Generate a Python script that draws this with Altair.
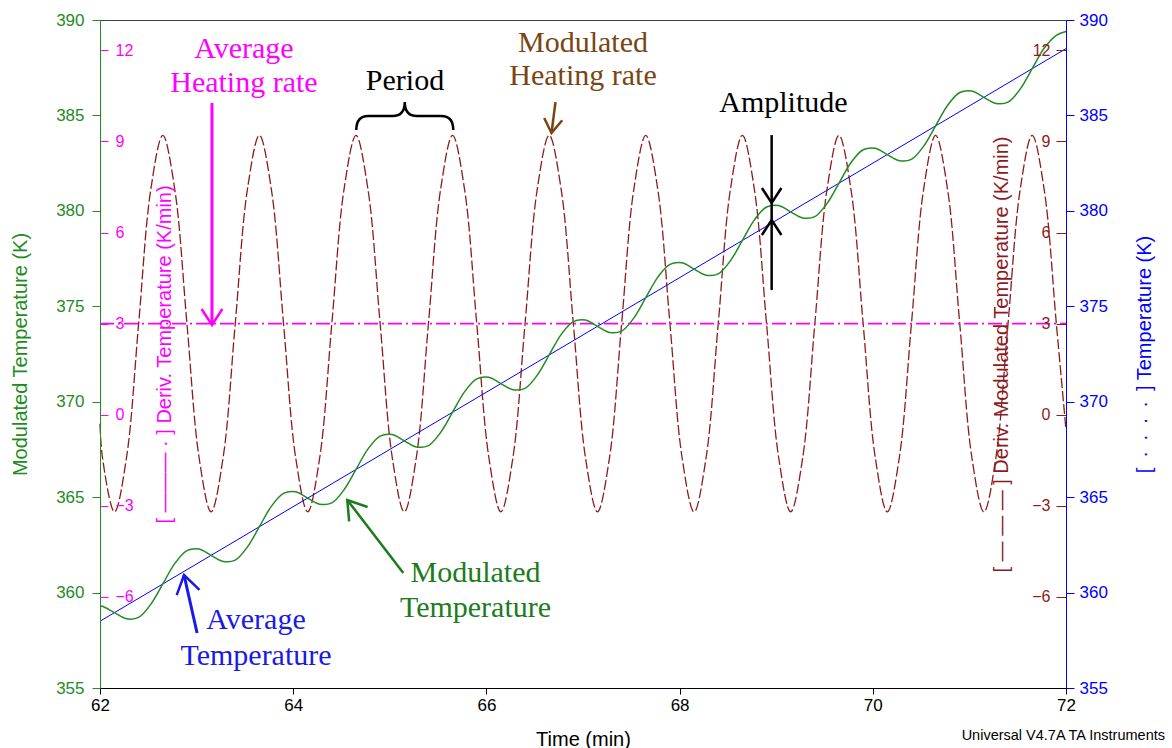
import altair as alt
import pandas as pd

# ---------------- data ----------------
time_min = [62.0,
    62.025, 62.15, 62.275, 62.4, 62.525, 62.65, 62.775, 62.9,
    63.025, 63.15, 63.275, 63.4, 63.525, 63.65, 63.775, 63.9,
    64.025, 64.15, 64.275, 64.4, 64.525, 64.65, 64.775, 64.9,
    65.025, 65.15, 65.275, 65.4, 65.525, 65.65, 65.775, 65.9,
    66.025, 66.15, 66.275, 66.4, 66.525, 66.65, 66.775, 66.9,
    67.025, 67.15, 67.275, 67.4, 67.525, 67.65, 67.775, 67.9,
    68.025, 68.15, 68.275, 68.4, 68.525, 68.65, 68.775, 68.9,
    69.025, 69.15, 69.275, 69.4, 69.525, 69.65, 69.775, 69.9,
    70.025, 70.15, 70.275, 70.4, 70.525, 70.65, 70.775, 70.9,
    71.025, 71.15, 71.275, 71.4, 71.525, 71.65, 71.775, 71.9,
    72.0]

# Deriv. Modulated Temperature (K/min)
deriv_mod = [-0.3,
    -1.4, -3.2, -1.4, 3.0, 7.4, 9.2, 7.4, 3.0,
    -1.4, -3.2, -1.4, 3.0, 7.4, 9.2, 7.4, 3.0,
    -1.4, -3.2, -1.4, 3.0, 7.4, 9.2, 7.4, 3.0,
    -1.4, -3.2, -1.4, 3.0, 7.4, 9.2, 7.4, 3.0,
    -1.4, -3.2, -1.4, 3.0, 7.4, 9.2, 7.4, 3.0,
    -1.4, -3.2, -1.4, 3.0, 7.4, 9.2, 7.4, 3.0,
    -1.4, -3.2, -1.4, 3.0, 7.4, 9.2, 7.4, 3.0,
    -1.4, -3.2, -1.4, 3.0, 7.4, 9.2, 7.4, 3.0,
    -1.4, -3.2, -1.4, 3.0, 7.4, 9.2, 7.4, 3.0,
    -1.4, -3.2, -1.4, 3.0, 7.4, 9.2, 7.4, 3.0,
    -0.5]

# Modulated Temperature (K)
mod_temp = [359.30,
    359.28, 358.95, 358.63, 358.70, 359.38, 360.45, 361.53, 362.20,
    362.28, 361.95, 361.63, 361.70, 362.38, 363.45, 364.53, 365.20,
    365.28, 364.95, 364.63, 364.70, 365.38, 366.45, 367.53, 368.20,
    368.28, 367.95, 367.63, 367.70, 368.38, 369.45, 370.53, 371.20,
    371.28, 370.95, 370.63, 370.70, 371.38, 372.45, 373.53, 374.20,
    374.28, 373.95, 373.63, 373.70, 374.38, 375.45, 376.53, 377.20,
    377.28, 376.95, 376.63, 376.70, 377.38, 378.45, 379.53, 380.20,
    380.28, 379.95, 379.63, 379.70, 380.38, 381.45, 382.53, 383.20,
    383.28, 382.95, 382.63, 382.70, 383.38, 384.45, 385.53, 386.20,
    386.28, 385.95, 385.63, 385.70, 386.38, 387.45, 388.53, 389.20,
    389.40]

# Average temperature (K) and average heating rate (K/min)
avg_time = [62.0, 72.0]
avg_temp = [358.5, 388.5]
avg_rate = [3.0, 3.0]

x_ticks = [62, 64, 66, 68, 70, 72]
temp_ticks = [355, 360, 365, 370, 375, 380, 385, 390]
rate_ticks = [-6, -3, 0, 3, 6, 9, 12]

# annotations (positions in data units: time, temperature)
ann_labels = ["Average", "Heating rate", "Period", "Modulated", "Heating rate",
              "Amplitude", "Modulated", "Temperature", "Average", "Temperature"]
ann_time = [63.49, 63.49, 65.157, 67.0, 67.0, 69.075, 65.887, 65.887, 63.615, 63.615]
ann_temp = [388.01, 386.23, 386.33, 388.32, 386.59, 385.18, 360.55, 358.72, 358.09, 356.20]
ann_color = ["#FF00FF", "#FF00FF", "#000000", "#7A4513", "#7A4513",
             "#000000", "#1C7C1C", "#1C7C1C", "#1A1AE6", "#1A1AE6"]

arrow_t1 = [63.159, 66.715, 68.953, 65.14, 63.005]
arrow_y1 = [385.65, 385.70, 383.97, 361.03, 357.88]
arrow_t2 = [63.159, 66.674, 68.953, 64.56, 62.87]
arrow_y2 = [374.02, 384.08, 375.85, 364.85, 360.92]
arrow_col = ["#FF00FF", "#7A4513", "#000000", "#1C7C1C", "#1A1AE6"]
arrow_w = [3, 2.5, 2.5, 2.5, 3]

head_t = [63.159, 66.674, 68.953, 68.953, 64.56, 62.87]
head_y = [374.02, 384.08, 380.41, 379.52, 364.85, 360.92]
head_angle = [0, 7, 0, 180, 142, 167]
head_size = [1024, 784, 900, 900, 1296, 1296]
head_col = ["#FF00FF", "#7A4513", "#000000", "#000000", "#1C7C1C", "#1A1AE6"]

brace_t = [65.155]
brace_y = [384.97]

# ---------------- styling ----------------
W, H = 966, 668
GREEN = "#228B22"
GREEN_TXT = "#1E8C1E"
BLUE = "#0000FF"
MAG = "#FF00FF"
RED = "#8E1B1B"

df_mod = pd.DataFrame({"t": time_min, "d": deriv_mod, "T": mod_temp})
df_avg = pd.DataFrame({"t": avg_time, "T": avg_temp, "d": avg_rate})
df_ann = pd.DataFrame({"t": ann_time, "T": ann_temp, "label": ann_labels, "c": ann_color})
df_arr = pd.DataFrame({"t": arrow_t1, "T": arrow_y1, "t2": arrow_t2, "T2": arrow_y2,
                       "c": arrow_col, "w": arrow_w})
df_head = pd.DataFrame({"t": head_t, "T": head_y, "a": head_angle, "s": head_size, "c": head_col})
df_brace = pd.DataFrame({"t": brace_t, "T": brace_y})
df_credit = pd.DataFrame({"t": [72.0], "T": [355.0], "label": ["Universal V4.7A TA Instruments"]})

temp_scale = alt.Scale(domain=[355, 390], nice=False, zero=False)
rate_scale = alt.Scale(domain=[-9, 13], nice=False, zero=False)

X = alt.X("t:Q", scale=alt.Scale(domain=[62, 72], nice=False, zero=False),
          axis=alt.Axis(values=x_ticks, format="d", title="Time (min)", grid=False,
                        domainColor="#000000", tickColor="#000000", tickSize=6,
                        labelColor="#000000", labelFontSize=17, labelPadding=3,
                        labelFlush=False, titleFontSize=20, titleFontWeight="normal",
                        titleColor="#000000", titleY=57, titleBaseline="alphabetic",
                        zindex=1))

def noaxis_y(field, scale):
    return alt.Y(field, scale=scale, axis=None)

red_axis = alt.Axis(orient="left", offset=-W, values=rate_ticks, grid=False, domain=False,
                    tickSize=10, tickColor=RED, labelColor=RED, labelFontSize=16,
                    labelPadding=6, title="[ — — — ] Deriv. Modulated Temperature (K/min)",
                    titleColor=RED, titleFontSize=20, titleFontWeight="normal",
                    titleAngle=270, titleX=-65, titleY=H / 2, titleBaseline="middle",
                    titleAlign="center", zindex=1)
mag_axis = alt.Axis(orient="right", offset=-W, values=rate_ticks, grid=False, domain=False,
                    tickSize=8, tickColor=MAG, labelColor=MAG, labelFontSize=16,
                    labelPadding=7, title="[ ——— · ] Deriv. Temperature (K/min)",
                    titleColor=MAG, titleFontSize=20, titleFontWeight="normal",
                    titleAngle=270, titleX=64, titleY=H / 2, titleBaseline="middle",
                    titleAlign="center", zindex=1)
blue_axis = alt.Axis(orient="right", values=temp_ticks, grid=False, domainColor=BLUE,
                     tickSize=8, tickColor=BLUE, labelColor=BLUE, labelFontSize=17,
                     labelPadding=5,
                     title="[\u2002·\u2002·\u2002·\u2002·\u2002] Temperature (K)",
                     titleColor=BLUE, titleFontSize=20, titleFontWeight="normal",
                     titleAngle=270, titleX=78, titleY=H / 2, titleBaseline="middle",
                     titleAlign="center", zindex=1)
green_axis = alt.Axis(orient="left", values=temp_ticks, grid=False, domainColor=GREEN,
                      tickSize=8, tickColor=GREEN, labelColor=GREEN_TXT, labelFontSize=17,
                      labelPadding=8, title="Modulated Temperature (K)",
                      titleColor=GREEN_TXT, titleFontSize=20, titleFontWeight="normal",
                      titleAngle=270, titleX=-80, titleY=H / 2, titleBaseline="middle",
                      titleAlign="center", zindex=1)

red_line = alt.Chart(df_mod).mark_line(color=RED, strokeDash=[10, 3], strokeWidth=1.3,
                                       interpolate="catmull-rom").encode(
    x=X, y=alt.Y("d:Q", scale=rate_scale, axis=red_axis))

mag_line = alt.Chart(df_avg).mark_line(color=MAG, strokeDash=[14, 4, 2, 4],
                                       strokeWidth=1.6).encode(
    x=X, y=alt.Y("d:Q", scale=rate_scale, axis=mag_axis))

blue_line = alt.Chart(df_avg).mark_line(color=BLUE, strokeWidth=1).encode(
    x=X, y=alt.Y("T:Q", scale=temp_scale, axis=blue_axis))

green_line = alt.Chart(df_mod).mark_line(color=GREEN, strokeWidth=1.5,
                                         interpolate="catmull-rom").encode(
    x=X, y=alt.Y("T:Q", scale=temp_scale, axis=green_axis))

ann_text = alt.Chart(df_ann).mark_text(font="Liberation Serif", fontSize=30,
                                       align="center", baseline="alphabetic").encode(
    x=X, y=noaxis_y("T:Q", temp_scale), text="label:N",
    color=alt.Color("c:N", scale=None))

shafts = alt.Chart(df_arr).mark_rule().encode(
    x=X, x2="t2:Q", y=noaxis_y("T:Q", temp_scale), y2="T2:Q",
    color=alt.Color("c:N", scale=None), strokeWidth=alt.StrokeWidth("w:Q", scale=None))

heads = alt.Chart(df_head).mark_point(shape="M -0.65 -1 L 0 0 L 0.65 -1", filled=False,
                                      strokeWidth=2.5, opacity=1).encode(
    x=X, y=noaxis_y("T:Q", temp_scale), angle=alt.Angle("a:Q", scale=None),
    size=alt.Size("s:Q", scale=None), color=alt.Color("c:N", scale=None))

brace = alt.Chart(df_brace).mark_point(
    shape="M -1 0.29 Q -1 0 -0.75 0 L -0.25 0 Q 0 0 0 -0.29 Q 0 0 0.25 0 L 0.75 0 Q 1 0 1 0.29",
    filled=False, strokeWidth=2.5, opacity=1, color="#000000", size=9409).encode(
    x=X, y=noaxis_y("T:Q", temp_scale))

credit = alt.Chart(df_credit).mark_text(font="Liberation Sans", fontSize=14.5, align="right",
                                        baseline="alphabetic", dx=99, dy=52,
                                        color="#000000").encode(
    x=X, y=noaxis_y("T:Q", temp_scale), text="label:N")

chart = alt.layer(red_line, mag_line, blue_line, green_line, shafts, heads, brace,
                  ann_text, credit).resolve_scale(y="independent").properties(
    width=W, height=H,
    autosize=alt.AutoSizeParams(type="none"),
    padding={"left": 100, "top": 20, "right": 106, "bottom": 60},
    background="#FFFFFF",
).configure(font="Liberation Sans").configure_view(stroke="#404040", strokeWidth=1)

chart.save("out.html", embed_options={"renderer": "svg", "actions": False})
